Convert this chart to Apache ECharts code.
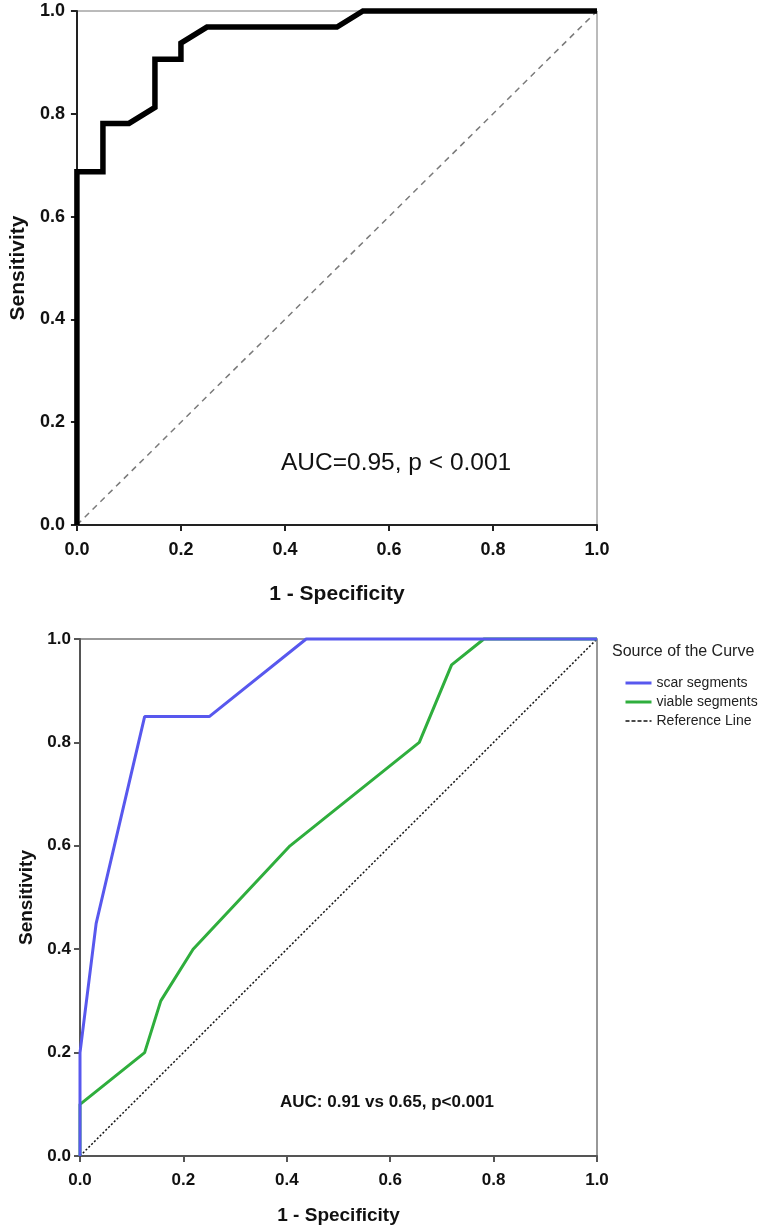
<!DOCTYPE html>
<html>
<head>
<meta charset="utf-8">
<script src="https://cdn.jsdelivr.net/npm/echarts@6/dist/echarts.min.js"></script>
<style>
html,body{margin:0;padding:0;background:#fff;}
#c{width:766px;height:1232px;}
</style>
</head>
<body>
<div id="c"></div>
<script>
// ---- Data ----
var ticks = [0, 0.2, 0.4, 0.6, 0.8, 1.0];

// Top panel ROC (1 - specificity, sensitivity)
var topFpr = [0, 0, 0.05, 0.05, 0.10, 0.15, 0.15, 0.20, 0.20, 0.25, 0.50, 0.55, 1.0];
var topTpr = [0, 0.6875, 0.6875, 0.78125, 0.78125, 0.8125, 0.90625, 0.90625, 0.9375, 0.96875, 0.96875, 1.0, 1.0];
var topAnnotation = 'AUC=0.95, p < 0.001';

// Bottom panel ROC curves
var scarFpr = [0, 0, 0.03125, 0.125, 0.25, 0.4375, 1.0];
var scarTpr = [0, 0.2, 0.45, 0.85, 0.85, 1.0, 1.0];
var viableFpr = [0, 0, 0.125, 0.15625, 0.21875, 0.40625, 0.65625, 0.71875, 0.78125, 1.0];
var viableTpr = [0, 0.1, 0.2, 0.3, 0.4, 0.6, 0.8, 0.95, 1.0, 1.0];
var refX = [0, 1];
var refY = [0, 1];
var seriesNames = ['scar segments', 'viable segments', 'Reference Line'];
var bottomAnnotation = 'AUC: 0.91 vs 0.65, p<0.001';
var legendTitle = 'Source of the Curve';

function pairs(xs, ys) { return xs.map(function (x, i) { return [x, ys[i]]; }); }

var FONT = '"Liberation Sans", Arial, sans-serif';
var BLUE = '#5858ee', GREEN = '#2fae3d';

function makeX(gridIndex, fs, nameFs, nameGap, lineColor, margin) {
  return {
    type: 'value', gridIndex: gridIndex, min: 0, max: 1, interval: 0.2,
    name: '1 - Specificity', nameLocation: 'middle', nameGap: nameGap,
    nameTextStyle: { fontFamily: FONT, fontWeight: 'bold', fontSize: nameFs, color: '#111' },
    axisLine: { show: true, onZero: false, lineStyle: { color: lineColor, width: 2 } },
    axisTick: { show: true, length: 6, inside: false, lineStyle: { color: lineColor, width: 2 } },
    axisLabel: { fontFamily: FONT, fontWeight: 'bold', fontSize: fs, color: '#111', margin: margin,
      formatter: function (v) { return v.toFixed(1); } },
    splitLine: { show: false }
  };
}
function makeY(gridIndex, fs, nameFs, nameGap, lineColor, margin) {
  return {
    type: 'value', gridIndex: gridIndex, min: 0, max: 1, interval: 0.2,
    name: 'Sensitivity', nameLocation: 'middle', nameGap: nameGap, nameRotate: 90,
    nameTextStyle: { fontFamily: FONT, fontWeight: 'bold', fontSize: nameFs, color: '#111' },
    axisLine: { show: true, onZero: false, lineStyle: { color: lineColor, width: 2 } },
    axisTick: { show: true, length: 6, inside: false, lineStyle: { color: lineColor, width: 2 } },
    axisLabel: { fontFamily: FONT, fontWeight: 'bold', fontSize: fs, color: '#111', margin: margin,
      formatter: function (v) { return v.toFixed(1); } },
    splitLine: { show: false }
  };
}

var chart = echarts.init(document.getElementById('c'), null, { renderer: 'canvas' });
chart.setOption({
  animation: false,
  backgroundColor: '#ffffff',
  grid: [
    { left: 76, top: 11, width: 521, height: 514, show: true, borderColor: '#777', borderWidth: 1, backgroundColor: 'transparent' },
    { left: 80, top: 639, width: 517, height: 517, show: true, borderColor: '#777', borderWidth: 1.5, backgroundColor: 'transparent' }
  ],
  xAxis: [
    makeX(0, 18, 21, 59, '#222', 16),
    makeX(1, 17, 19, 50, '#555', 16)
  ],
  yAxis: [
    makeY(0, 18, 21, 46, '#222', 12),
    makeY(1, 17, 19, 34, '#555', 9)
  ],
  legend: {
    data: [
      { name: seriesNames[0], lineStyle: { width: 3, color: BLUE } },
      { name: seriesNames[1], lineStyle: { width: 3, color: GREEN } },
      { name: seriesNames[2], lineStyle: { width: 1.5, color: '#111', type: [4, 2] } }
    ],
    orient: 'vertical', left: 619, top: 671,
    itemWidth: 26, itemHeight: 14, itemGap: 5,
    itemStyle: { opacity: 0 },
    textStyle: { fontFamily: FONT, fontSize: 14, color: '#222' },
    selectedMode: false
  },
  graphic: [
    { type: 'text', left: 612, top: 644,
      style: { text: legendTitle, font: '16px ' + FONT, fill: '#222' } },
    { type: 'text', left: 281, top: 451,
      style: { text: topAnnotation, font: '24.5px ' + FONT, fill: '#111' } },
    { type: 'text', left: 280, top: 1094,
      style: { text: bottomAnnotation, font: 'bold 17px ' + FONT, fill: '#111' } }
  ],
  series: [
    { name: 'Diagonal', type: 'line', xAxisIndex: 0, yAxisIndex: 0, data: pairs(refX, refY),
      symbol: 'none', silent: true, lineStyle: { color: '#7a7a7a', width: 1.5, type: [6, 5] }, z: 2 },
    { name: 'ROC', type: 'line', xAxisIndex: 0, yAxisIndex: 0, data: pairs(topFpr, topTpr),
      symbol: 'none', clip: false, lineStyle: { color: '#000', width: 5.5, join: 'miter' }, z: 3 },
    { name: seriesNames[2], type: 'line', xAxisIndex: 1, yAxisIndex: 1, data: pairs(refX, refY),
      symbol: 'none', itemStyle: { color: '#111' }, lineStyle: { color: '#111', width: 1.5, type: [2, 2] }, z: 2 },
    { name: seriesNames[1], type: 'line', xAxisIndex: 1, yAxisIndex: 1, data: pairs(viableFpr, viableTpr),
      symbol: 'none', clip: false, itemStyle: { color: GREEN }, lineStyle: { color: GREEN, width: 3 }, z: 3 },
    { name: seriesNames[0], type: 'line', xAxisIndex: 1, yAxisIndex: 1, data: pairs(scarFpr, scarTpr),
      symbol: 'none', clip: false, itemStyle: { color: BLUE }, lineStyle: { color: BLUE, width: 3 }, z: 4 }
  ]
});
</script>
</body>
</html>
